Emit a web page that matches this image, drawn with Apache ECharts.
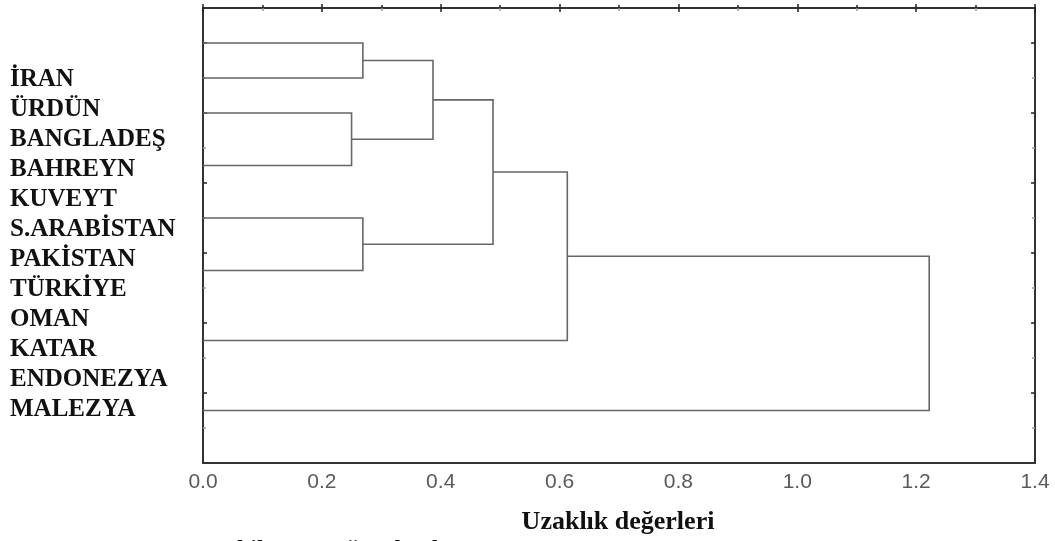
<!DOCTYPE html>
<html>
<head>
<meta charset="utf-8">
<script src="https://cdn.jsdelivr.net/npm/echarts@6/dist/echarts.min.js"></script>
<style>
  html, body { margin: 0; padding: 0; background: #fff; }
  #chart { width: 1055px; height: 541px; }
</style>
</head>
<body>
<div id="chart"></div>
<script>
// Country names listed beside the tree
const countries = ['İRAN', 'ÜRDÜN', 'BANGLADEŞ', 'BAHREYN', 'KUVEYT', 'S.ARABİSTAN',
  'PAKİSTAN', 'TÜRKİYE', 'OMAN', 'KATAR', 'ENDONEZYA', 'MALEZYA'];

// Leaf rows of the tree (vertical axis units, 0 at top, 13 at bottom)
const leafRows = [1, 2, 3, 4.5, 6, 7.5, 9.5, 11.5];

// Merge steps: [left child, right child, linkage distance]
// children 0..7 are leaves, 8.. are earlier merges in this list
const mergeLeft = [0, 2, 8, 4, 10, 12, 13];
const mergeRight = [1, 3, 9, 5, 11, 6, 7];
const mergeDistance = [0.269, 0.250, 0.387, 0.269, 0.488, 0.613, 1.222];

// Distance axis tick labels
const distanceTicks = ['0.0', '0.2', '0.4', '0.6', '0.8', '1.0', '1.2', '1.4'];

const axisTitle = 'Uzaklık değerleri';
const caption = 'Şekil 3.6.2. Ağaç dendrogramı';

// Build node positions and bracket polylines
const nodeX = leafRows.map(() => 0);
const nodeY = leafRows.slice();
const brackets = [];
for (let i = 0; i < mergeDistance.length; i++) {
  const a = mergeLeft[i], b = mergeRight[i], h = mergeDistance[i];
  brackets.push({
    coords: [[nodeX[a], nodeY[a]], [h, nodeY[a]], [h, nodeY[b]], [nodeX[b], nodeY[b]]]
  });
  nodeX.push(h);
  nodeY.push((nodeY[a] + nodeY[b]) / 2);
}

const chart = echarts.init(document.getElementById('chart'), null, { renderer: 'canvas' });

const tickColorDark = '#222';
const tickColorLight = '#999';

function rowAxis(position, values, color, length) {
  return {
    type: 'value', gridIndex: 0, min: 0, max: 13, inverse: true, position: position,
    axisLine: { show: false },
    axisTick: { show: true, inside: true, length: length, customValues: values, lineStyle: { color: color, width: 1.5 } },
    axisLabel: { show: false }, splitLine: { show: false }
  };
}

chart.setOption({
  animation: false,
  backgroundColor: '#fff',
  grid: [
    { left: 203, right: 20, top: 8, bottom: 78, show: true, borderColor: '#333', borderWidth: 2, backgroundColor: 'transparent' },
    { left: 10, top: 64.5, height: 360, width: 1, show: false }
  ],
  xAxis: [
    {
      type: 'value', gridIndex: 0, min: 0, max: 1.4, interval: 0.2, position: 'bottom',
      axisLine: { show: false },
      axisTick: { show: true, inside: true, length: 4, lineStyle: { color: tickColorDark, width: 1.5 } },
      minorTick: { show: true, splitNumber: 2, length: 3, lineStyle: { color: tickColorDark, width: 1.5 } },
      splitLine: { show: false },
      axisLabel: {
        margin: 9, color: '#5a5a5a', fontSize: 21, fontFamily: 'Liberation Sans, Arial, sans-serif',
        formatter: (v) => distanceTicks[Math.round(v / 0.2)] || ''
      }
    },
    {
      type: 'value', gridIndex: 0, min: 0, max: 1.4, interval: 0.2, position: 'top',
      axisLine: { show: false },
      axisTick: { show: true, inside: true, length: 4, lineStyle: { color: tickColorDark, width: 1.5 } },
      minorTick: { show: true, splitNumber: 2, length: 3, lineStyle: { color: tickColorLight, width: 1.5 } },
      axisLabel: { show: false }, splitLine: { show: false }
    },
    { type: 'category', gridIndex: 1, show: false }
  ],
  yAxis: [
    rowAxis('left', [1, 3, 5, 7, 9, 11], tickColorDark, 4),
    rowAxis('left', [2, 4, 6, 8, 10, 12], tickColorLight, 3),
    rowAxis('right', [1, 3, 5, 7, 9, 11], tickColorDark, 4),
    rowAxis('right', [2, 4, 6, 8, 10, 12], tickColorLight, 3),
    {
      type: 'category', gridIndex: 1, data: countries, inverse: true, position: 'left',
      axisLine: { show: false }, axisTick: { show: false }, splitLine: { show: false },
      axisLabel: {
        interval: 0, inside: true, margin: 0, align: 'left', color: '#111',
        fontFamily: 'Liberation Serif, Times New Roman, serif', fontWeight: 'bold', fontSize: 25
      }
    }
  ],
  series: [
    {
      type: 'lines', coordinateSystem: 'cartesian2d', xAxisIndex: 0, yAxisIndex: 0,
      polyline: true, silent: true,
      lineStyle: { color: '#666', width: 1.6, opacity: 1 },
      data: brackets
    },
    { type: 'scatter', xAxisIndex: 2, yAxisIndex: 4, data: [], silent: true }
  ],
  graphic: [
    {
      type: 'text',
      style: {
        text: axisTitle, x: 0, y: 0, align: 'center', verticalAlign: 'middle',
        font: 'bold 26px "Liberation Serif", "Times New Roman", serif', fill: '#111'
      },
      position: [618, 522]
    },
    {
      type: 'text',
      style: {
        text: caption, x: 0, y: 0, align: 'left', verticalAlign: 'middle',
        font: 'bold 24px "Liberation Serif", "Times New Roman", serif', fill: '#111'
      },
      position: [213, 550]
    }
  ]
});
</script>
</body>
</html>
